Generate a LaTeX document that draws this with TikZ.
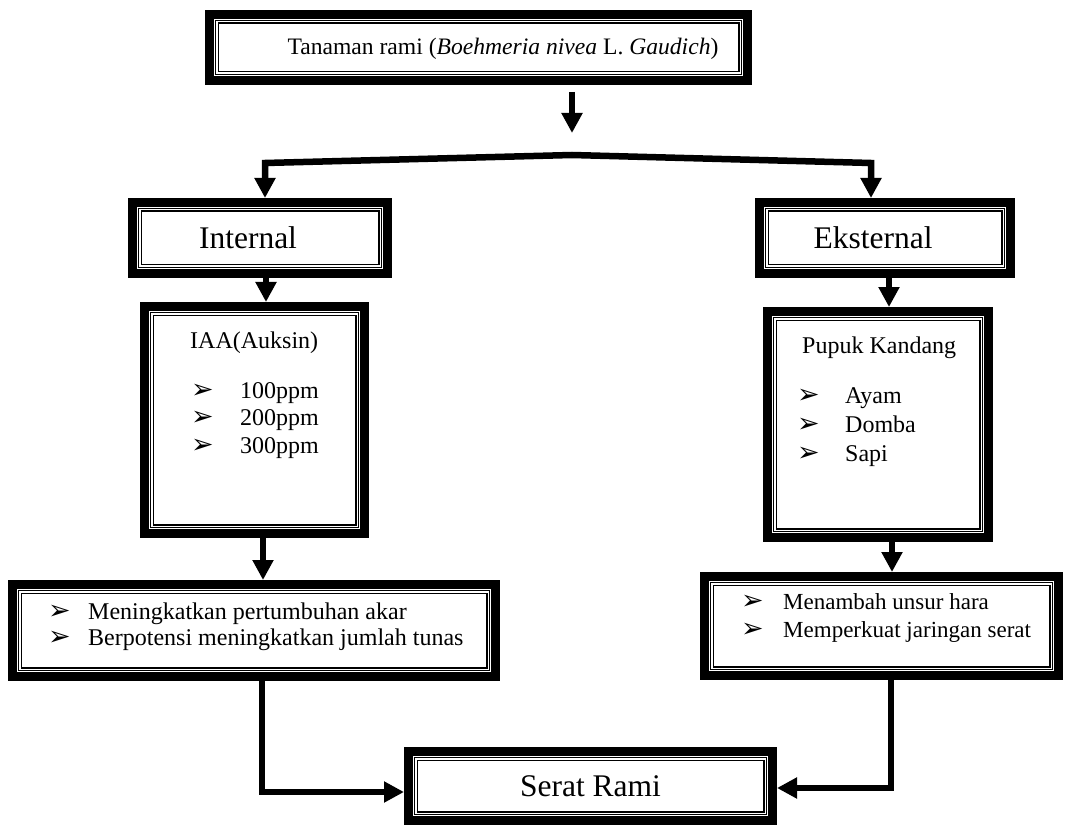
\documentclass[tikz,border=0pt]{standalone}
\usepackage{fontspec}
\setmainfont{Liberation Serif}
\newfontfamily\symfont{DejaVu Sans}
\usetikzlibrary{arrows.meta, positioning, calc}

\newcommand{\arrbul}{{\symfont\fontsize{27}{28}\selectfont ➢}}

\begin{document}
\begin{tikzpicture}[x=1pt, y=-1pt,
  frame/.style = {rectangle, draw, double, double distance=1.2pt,
                  line width=1.3pt, inner sep=0, outer sep=11.9pt},
  thickframe/.style = {draw, line width=9pt, line join=miter},
  conn/.style = {line width=6.5pt, -{Triangle[width=20pt,length=20pt]}},
  big/.style  = {font=\fontsize{31.5}{36}\selectfont, inner sep=0},
  item/.style = {font=\fontsize{24}{28}\selectfont, anchor=base west, inner sep=0},
]
\useasboundingbox (0,0) rectangle (1065,826);
% ── boxes ──
\node[frame, minimum width=523.2, minimum height=51.2] (plant) at (478.5,47.5) {};
\node[frame, minimum width=240.2, minimum height=56.2] (intl)  at (260,238) {};
\node[frame, minimum width=236.2, minimum height=56.2] (extl)  at (885,238) {};
\node[frame, minimum width=205.2, minimum height=212.2] (iaa)   at (254.5,420) {};
\node[frame, minimum width=206.2, minimum height=211.2] (pupuk) at (878,424.5) {};
\node[frame, minimum width=468.2, minimum height=77.2]  (effL)  at (254,630.5) {};
\node[frame, minimum width=339.2, minimum height=84.2]  (effR)  at (881.5,626) {};
\node[frame, minimum width=349.2, minimum height=54.2]  (serat) at (590.5,786) {};
\foreach \n in {plant,intl,extl,iaa,pupuk,effL,effR,serat}
  \draw[thickframe] ([shift={(4.5pt,-4.5pt)}]\n.north west)
                    rectangle ([shift={(-4.5pt,4.5pt)}]\n.south east);
% ── titles ──
\node[font=\fontsize{23.6}{28}\selectfont, inner sep=0] (plantT)
  at ([xshift=24.5pt,yshift=-1pt]plant.center)
  {Tanaman rami (\textit{Boehmeria nivea} L. \textit{Gaudich})};
\node[big] (intlT)  at ([xshift=-12pt]intl.center) {Internal};
\node[big] (extlT)  at ([xshift=-12pt]extl.center) {Eksternal};
\node[big] (seratT) at (serat.center) {Serat Rami};
% ── list contents ──
\node[item] (iaaT) at (190,348) {IAA(Auksin)};
\foreach \i/\txt in {0/100ppm,1/200ppm,2/300ppm} {
  \node[item] (iaaB\i) at (191,398+\i*27.5) {\arrbul};
  \node[item] (iaaI\i) at (240,398+\i*27.5) {\txt};
}
\node[item] (pupT) at (802,353) {Pupuk Kandang};
\foreach \i/\txt in {0/Ayam,1/Domba,2/Sapi} {
  \node[item] (pupB\i) at (797,403+\i*29) {\arrbul};
  \node[item] (pupI\i) at (845,403+\i*29) {\txt};
}
\foreach \i/\txt in {0/Meningkatkan pertumbuhan akar,
                     1/Berpotensi meningkatkan jumlah tunas} {
  \node[item] (effLB\i) at (48,619+\i*26) {\arrbul};
  \node[item] (effLI\i) at (88,619+\i*26) {\txt};
}
\foreach \i/\txt in {0/Menambah unsur hara,1/Memperkuat jaringan serat} {
  \node[item] (effRB\i) at (741,609+\i*28) {\arrbul};
  \node[item, font=\fontsize{23}{27}\selectfont] (effRI\i) at (783,609+\i*28) {\txt};
}
% ── connectors ──
\coordinate (split) at (572,155);
\coordinate (lft) at (265,163);
\coordinate (rgt) at (871,163);
\draw[conn] ([yshift=-7pt]plant.south -| split) -- ([yshift=22pt]split);
\draw[conn] (split) -- (lft) -- (lft |- intl.north);
\draw[conn] (split) -- (rgt) -- (rgt |- extl.north);
\draw[conn] ([xshift=6pt]intl.south) -- ([xshift=6pt]intl.south |- iaa.north);
\draw[conn] ([xshift=4pt]extl.south) -- ([xshift=4pt]extl.south |- pupuk.north);
\draw[conn] ([xshift=8.5pt]iaa.south) -- ([xshift=8.5pt]iaa.south |- effL.north);
\draw[conn] ([xshift=14pt]pupuk.south) -- ([xshift=14pt]pupuk.south |- effR.north);
\draw[conn] ([xshift=8pt]effL.south) |- ([yshift=-6pt]serat.west);
\draw[conn] ([xshift=9.5pt]effR.south) |- ([yshift=-2pt]serat.east);
\end{tikzpicture}
\end{document}
